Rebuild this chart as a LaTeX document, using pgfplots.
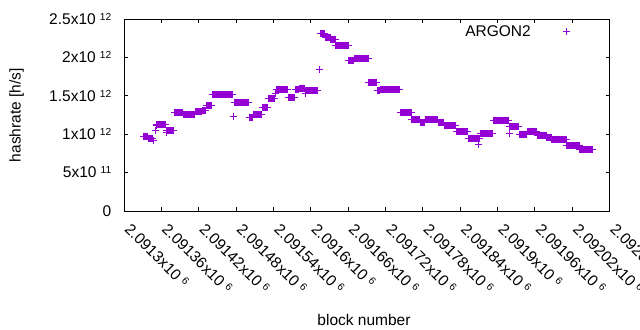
\documentclass[border=0pt]{standalone}
\usepackage{pgfplots}
\pgfplotsset{compat=1.18}
\usepackage{fontspec}
\setmainfont{Liberation Sans}
\definecolor{argon}{RGB}{148,0,211}
\newcommand\sci[2]{#1x10\hspace{4.2bp}\raisebox{4.3bp}[0pt][0pt]{\fontsize{10.2bp}{12bp}\selectfont #2}}
\begin{document}
\begin{tikzpicture}[font=\fontsize{15.5bp}{18bp}\selectfont]
% x: block number - 2091000 ; y: hashrate in units of 10^12 h/s
\begin{axis}[
  at={(124bp,119bp)}, anchor=south west,
  scale only axis, width=485.6bp, height=191.7bp,
  xmin=300, xmax=1080, ymin=0, ymax=2.5,
  xtick={300,360,420,480,540,600,660,720,780,840,900,960,1020,1080},
  xticklabels={\sci{2.0913}{6},\sci{2.09136}{6},\sci{2.09142}{6},\sci{2.09148}{6},\sci{2.09154}{6},\sci{2.0916}{6},\sci{2.09166}{6},\sci{2.09172}{6},\sci{2.09178}{6},\sci{2.09184}{6},\sci{2.0919}{6},\sci{2.09196}{6},\sci{2.09202}{6},\sci{2.09208}{6}},
  ytick={0,0.5,1,1.5,2,2.5},
  yticklabels={0,\sci{5}{11},\sci{1}{12},\sci{1.5}{12},\sci{2}{12},\sci{2.5}{12}},
  tick align=inside, major tick length=4bp,
  major tick style={line width=1bp, black},
  axis line style={line width=1bp, black},
  xticklabel style={xshift=3.5bp, rotate=-45, anchor=west, inner sep=0pt},
  yticklabel style={anchor=east, inner sep=0pt},
  xticklabel shift=15.5bp, yticklabel shift=12.5bp,
  xlabel={block number}, ylabel={hashrate [h/s]},
  xlabel style={at={(axis description cs:0.4942,-0.5947)}, anchor=base},
  ylabel style={at={(axis description cs:-0.2131,0.5)}, anchor=base},
  legend style={draw=none, fill=none, at={(rel axis cs:0.9195,0.9353)}, anchor=east, inner sep=0pt, column sep=32.5bp, nodes={inner sep=0pt}},
  legend plot pos=right, legend cell align=right,
]
\addplot[only marks, mark=+, mark size=3.5bp, color=argon, mark options={line width=1bp}] table[row sep=\\] {
x y\\
331 .978\\332 .978\\333 .978\\334 .978\\335 .978\\336 .978\\337 .978\\338 .978\\
339 .952\\340 .952\\341 .952\\342 .952\\343 .952\\344 .952\\345 .952\\
348 .913\\350 1.056\\352 1.12\\
353 1.128\\354 1.128\\355 1.128\\356 1.128\\357 1.128\\358 1.128\\359 1.128\\360 1.128\\361 1.128\\362 1.128\\363 1.128\\364 1.128\\365 1.128\\366 1.128\\367 1.128\\
368 1.021\\
369 1.050\\370 1.050\\371 1.050\\372 1.050\\373 1.050\\374 1.050\\375 1.050\\376 1.050\\377 1.050\\378 1.050\\379 1.050\\380 1.050\\
381 1.285\\382 1.285\\383 1.285\\384 1.285\\385 1.285\\386 1.285\\387 1.285\\388 1.285\\389 1.285\\390 1.285\\391 1.285\\392 1.285\\393 1.285\\394 1.285\\
395 1.261\\396 1.261\\397 1.261\\398 1.261\\399 1.261\\400 1.261\\401 1.261\\402 1.261\\403 1.261\\404 1.261\\405 1.261\\406 1.261\\407 1.261\\408 1.261\\409 1.261\\410 1.261\\411 1.261\\412 1.261\\413 1.261\\414 1.261\\
415 1.295\\416 1.295\\417 1.295\\418 1.295\\419 1.295\\420 1.295\\421 1.295\\422 1.295\\423 1.295\\424 1.295\\425 1.295\\
426 1.317\\427 1.317\\428 1.317\\429 1.317\\430 1.317\\431 1.317\\
432 1.376\\433 1.376\\434 1.376\\435 1.376\\436 1.376\\437 1.376\\438 1.376\\439 1.376\\440 1.376\\441 1.376\\
442 1.519\\443 1.519\\444 1.519\\445 1.519\\446 1.519\\447 1.519\\448 1.519\\449 1.519\\450 1.519\\451 1.519\\452 1.519\\453 1.519\\454 1.519\\455 1.519\\456 1.519\\457 1.519\\458 1.519\\459 1.519\\460 1.519\\461 1.519\\462 1.519\\463 1.519\\464 1.519\\465 1.519\\466 1.519\\467 1.519\\468 1.519\\469 1.519\\470 1.519\\471 1.519\\472 1.519\\473 1.519\\474 1.519\\475 1.519\\
476 1.235\\
477 1.415\\478 1.415\\479 1.415\\480 1.415\\481 1.415\\482 1.415\\483 1.415\\484 1.415\\485 1.415\\486 1.415\\487 1.415\\488 1.415\\489 1.415\\490 1.415\\491 1.415\\492 1.415\\493 1.415\\494 1.415\\495 1.415\\496 1.415\\497 1.415\\498 1.415\\499 1.415\\500 1.415\\
501 1.219\\502 1.219\\503 1.219\\504 1.219\\505 1.219\\506 1.219\\507 1.219\\
508 1.258\\509 1.258\\510 1.258\\511 1.258\\512 1.258\\513 1.258\\514 1.258\\515 1.258\\516 1.258\\517 1.258\\518 1.258\\519 1.258\\520 1.258\\521 1.258\\
522 1.356\\523 1.356\\524 1.356\\525 1.356\\526 1.356\\527 1.356\\528 1.356\\529 1.356\\530 1.356\\531 1.356\\
532 1.467\\533 1.467\\534 1.467\\535 1.467\\536 1.467\\537 1.467\\538 1.467\\539 1.467\\540 1.467\\541 1.467\\542 1.467\\
543 1.526\\544 1.526\\
545 1.585\\546 1.585\\547 1.585\\548 1.585\\549 1.585\\550 1.585\\551 1.585\\552 1.585\\553 1.585\\554 1.585\\555 1.585\\556 1.585\\557 1.585\\558 1.585\\559 1.585\\560 1.585\\561 1.585\\562 1.585\\563 1.585\\
564 1.483\\565 1.483\\566 1.483\\567 1.483\\568 1.483\\569 1.483\\570 1.483\\571 1.483\\572 1.483\\573 1.483\\574 1.483\\
575 1.578\\576 1.578\\577 1.578\\578 1.578\\579 1.578\\580 1.578\\581 1.578\\
582 1.604\\583 1.604\\584 1.604\\585 1.604\\586 1.604\\587 1.604\\588 1.604\\589 1.604\\590 1.604\\
591 1.535\\
592 1.571\\593 1.571\\594 1.571\\595 1.571\\596 1.571\\597 1.571\\598 1.571\\599 1.571\\600 1.571\\601 1.571\\602 1.571\\603 1.571\\604 1.571\\605 1.571\\606 1.571\\607 1.571\\608 1.571\\609 1.571\\610 1.571\\611 1.571\\
614 1.839\\
615 2.311\\616 2.311\\617 2.311\\618 2.311\\619 2.311\\620 2.311\\621 2.311\\622 2.311\\
623 2.269\\624 2.269\\625 2.269\\626 2.269\\627 2.269\\628 2.269\\629 2.269\\630 2.269\\631 2.269\\
632 2.239\\633 2.239\\634 2.239\\635 2.239\\636 2.239\\637 2.239\\638 2.239\\639 2.239\\
640 2.161\\641 2.161\\642 2.161\\643 2.161\\644 2.161\\645 2.161\\646 2.161\\647 2.161\\648 2.161\\649 2.161\\650 2.161\\651 2.161\\652 2.161\\653 2.161\\654 2.161\\655 2.161\\656 2.161\\657 2.161\\658 2.161\\659 2.161\\660 2.161\\
661 1.965\\662 1.965\\663 1.965\\664 1.965\\665 1.965\\666 1.965\\667 1.965\\668 1.965\\669 1.965\\
670 1.991\\671 1.991\\672 1.991\\673 1.991\\674 1.991\\675 1.991\\676 1.991\\677 1.991\\678 1.991\\679 1.991\\680 1.991\\681 1.991\\682 1.991\\683 1.991\\684 1.991\\685 1.991\\686 1.991\\687 1.991\\688 1.991\\689 1.991\\690 1.991\\691 1.991\\692 1.991\\
693 1.682\\694 1.682\\695 1.682\\696 1.682\\697 1.682\\698 1.682\\699 1.682\\700 1.682\\701 1.682\\702 1.682\\703 1.682\\704 1.682\\705 1.682\\706 1.682\\
707 1.574\\708 1.574\\709 1.574\\710 1.574\\711 1.574\\
712 1.587\\713 1.587\\714 1.587\\715 1.587\\716 1.587\\717 1.587\\718 1.587\\719 1.587\\720 1.587\\721 1.587\\722 1.587\\723 1.587\\724 1.587\\725 1.587\\726 1.587\\727 1.587\\728 1.587\\729 1.587\\730 1.587\\731 1.587\\732 1.587\\733 1.587\\734 1.587\\735 1.587\\736 1.587\\737 1.587\\738 1.587\\739 1.587\\740 1.587\\741 1.587\\742 1.587\\743 1.587\\
744 1.282\\745 1.282\\746 1.282\\747 1.282\\748 1.282\\749 1.282\\750 1.282\\751 1.282\\752 1.282\\753 1.282\\754 1.282\\755 1.282\\756 1.282\\757 1.282\\758 1.282\\759 1.282\\760 1.282\\761 1.282\\
762 1.196\\763 1.196\\764 1.196\\765 1.196\\766 1.196\\767 1.196\\768 1.196\\769 1.196\\770 1.196\\771 1.196\\772 1.196\\773 1.196\\774 1.196\\775 1.196\\
776 1.157\\777 1.157\\778 1.157\\779 1.157\\780 1.157\\781 1.157\\782 1.157\\783 1.157\\
784 1.191\\785 1.191\\786 1.191\\787 1.191\\788 1.191\\789 1.191\\790 1.191\\791 1.191\\792 1.191\\793 1.191\\794 1.191\\795 1.191\\796 1.191\\797 1.191\\798 1.191\\799 1.191\\800 1.191\\801 1.191\\802 1.191\\803 1.191\\804 1.191\\
805 1.150\\806 1.150\\807 1.150\\808 1.150\\809 1.150\\810 1.150\\811 1.150\\812 1.150\\813 1.150\\814 1.150\\
815 1.112\\816 1.112\\817 1.112\\818 1.112\\819 1.112\\820 1.112\\821 1.112\\822 1.112\\823 1.112\\824 1.112\\825 1.112\\826 1.112\\827 1.112\\828 1.112\\829 1.112\\830 1.112\\831 1.112\\832 1.112\\833 1.112\\
834 1.037\\835 1.037\\836 1.037\\837 1.037\\838 1.037\\839 1.037\\840 1.037\\841 1.037\\842 1.037\\843 1.037\\844 1.037\\845 1.037\\846 1.037\\847 1.037\\848 1.037\\849 1.037\\850 1.037\\851 1.037\\852 1.037\\
853 .952\\854 .952\\855 .952\\856 .952\\857 .952\\858 .952\\859 .952\\860 .952\\861 .952\\862 .952\\863 .952\\864 .952\\865 .952\\866 .952\\867 .952\\868 .952\\869 .861\\870 .952\\871 .952\\
872 1.008\\873 1.008\\874 1.008\\875 1.008\\876 1.008\\877 1.008\\878 1.008\\879 1.008\\880 1.008\\881 1.008\\882 1.008\\883 1.008\\884 1.008\\885 1.008\\886 1.008\\887 1.008\\888 1.008\\889 1.008\\890 1.008\\891 1.008\\892 1.008\\
893 1.183\\894 1.183\\895 1.183\\896 1.183\\897 1.183\\898 1.183\\899 1.183\\900 1.183\\901 1.183\\902 1.183\\903 1.183\\904 1.183\\905 1.183\\906 1.183\\907 1.183\\908 1.183\\909 1.183\\910 1.183\\911 1.183\\912 1.183\\913 1.183\\914 1.183\\915 1.183\\916 1.183\\917 1.183\\918 1.183\\
919 1.013\\
920 1.105\\921 1.105\\922 1.105\\923 1.105\\924 1.105\\925 1.105\\926 1.105\\927 1.105\\928 1.105\\929 1.105\\930 1.105\\931 1.105\\932 1.105\\933 1.105\\934 1.105\\
935 1.004\\936 1.004\\937 1.004\\938 1.004\\939 1.004\\940 1.004\\941 1.004\\942 1.004\\943 1.004\\944 1.004\\945 1.004\\946 1.004\\947 1.004\\
948 1.039\\949 1.039\\950 1.039\\951 1.039\\952 1.039\\953 1.039\\954 1.039\\955 1.039\\956 1.039\\957 1.039\\958 1.039\\959 1.039\\960 1.039\\961 1.039\\962 1.039\\963 1.039\\
964 .987\\965 .987\\966 .987\\967 .987\\968 .987\\969 .987\\970 .987\\971 .987\\972 .987\\973 .987\\974 .987\\975 .987\\976 .987\\977 .987\\978 .987\\
979 .961\\980 .961\\981 .961\\982 .961\\983 .961\\984 .961\\985 .961\\986 .961\\
987 .935\\988 .935\\989 .935\\990 .935\\991 .935\\992 .935\\993 .935\\994 .935\\995 .935\\996 .935\\997 .935\\998 .935\\999 .935\\1000 .935\\1001 .935\\1002 .935\\1003 .935\\1004 .935\\1005 .935\\1006 .935\\1007 .935\\1008 .935\\1009 .935\\1010 .935\\
1011 .848\\1012 .848\\1013 .848\\1014 .848\\1015 .848\\1016 .848\\1017 .848\\1018 .848\\1019 .848\\1020 .848\\1021 .848\\1022 .848\\1023 .848\\1024 .848\\1025 .848\\1026 .848\\1027 .848\\1028 .848\\1029 .848\\1030 .848\\1031 .848\\
1032 .805\\1033 .805\\1034 .805\\1035 .805\\1036 .805\\1037 .805\\1038 .805\\1039 .805\\1040 .805\\1041 .805\\1042 .805\\1043 .805\\1044 .805\\1045 .805\\1046 .805\\1047 .805\\1048 .805\\1049 .805\\1050 .805\\1051 .805\\1052 .805\\1053 .805\\
};
\addlegendentry{ARGON2}
\end{axis}
\pgfresetboundingbox
\path[use as bounding box] (0,0) rectangle (640bp,330bp);
\end{tikzpicture}
\end{document}
